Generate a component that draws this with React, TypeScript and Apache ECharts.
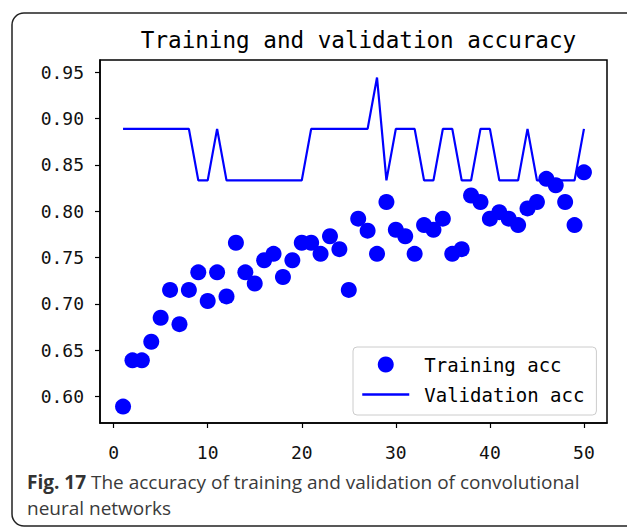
import React, { useEffect, useRef } from "react";
import * as echarts from "echarts";

const epochs = [
  1, 2, 3, 4, 5, 6, 7, 8, 9, 10, 11, 12, 13, 14, 15, 16, 17, 18, 19, 20, 21, 22, 23, 24, 25,
  26, 27, 28, 29, 30, 31, 32, 33, 34, 35, 36, 37, 38, 39, 40, 41, 42, 43, 44, 45, 46, 47, 48, 49, 50,
];

const trainingAcc = [
  0.589, 0.639, 0.639, 0.659, 0.685, 0.715, 0.678, 0.715, 0.734, 0.703,
  0.734, 0.708, 0.766, 0.734, 0.722, 0.747, 0.754, 0.729, 0.747, 0.766,
  0.766, 0.754, 0.773, 0.759, 0.715, 0.792, 0.779, 0.754, 0.810, 0.780,
  0.773, 0.754, 0.785, 0.780, 0.792, 0.754, 0.759, 0.817, 0.810, 0.792,
  0.799, 0.792, 0.785, 0.803, 0.810, 0.835, 0.828, 0.810, 0.785, 0.842,
];

const validationAcc = [
  0.8889, 0.8889, 0.8889, 0.8889, 0.8889, 0.8889, 0.8889, 0.8889, 0.8333, 0.8333,
  0.8889, 0.8333, 0.8333, 0.8333, 0.8333, 0.8333, 0.8333, 0.8333, 0.8333, 0.8333,
  0.8889, 0.8889, 0.8889, 0.8889, 0.8889, 0.8889, 0.8889, 0.9444, 0.8333, 0.8889,
  0.8889, 0.8889, 0.8333, 0.8333, 0.8889, 0.8889, 0.8333, 0.8333, 0.8889, 0.8889,
  0.8333, 0.8333, 0.8333, 0.8889, 0.8333, 0.8333, 0.8333, 0.8333, 0.8333, 0.8889,
];

const xTicks = [0, 10, 20, 30, 40, 50];
const yTicks = [0.6, 0.65, 0.7, 0.75, 0.8, 0.85, 0.9, 0.95];

const titleText = "Training and validation accuracy";
const seriesNames = ["Training acc", "Validation acc"];
const captionBold = "Fig. 17";
const captionRest = " The accuracy of training and validation of convolutional\nneural networks";

const MONO = "'DejaVu Sans Mono', monospace";

export default function App() {
  const ref = useRef<HTMLDivElement>(null);

  useEffect(() => {
    document.body.style.margin = "0";
    if (!ref.current) return;
    const chart = echarts.init(ref.current, undefined, { renderer: "svg" });
    const blue = "#0000ff";
    chart.setOption({
      animation: false,
      backgroundColor: "#ffffff",
      title: {
        text: titleText,
        left: 353.5,
        top: 23,
        textAlign: "center",
        textStyle: { fontFamily: MONO, fontSize: 22.6, fontWeight: "normal", color: "#000" },
      },
      grid: {
        left: 100,
        top: 60,
        right: 20,
        bottom: 105,
        show: true,
        borderColor: "#000",
        borderWidth: 1.5,
        backgroundColor: "#fff",
      },
      legend: {
        orient: "vertical",
        left: 353,
        top: 347,
        itemWidth: 47,
        itemHeight: 16,
        itemGap: 11,
        padding: [8, 12, 11, 8],
        backgroundColor: "#fff",
        borderColor: "#cccccc",
        borderWidth: 1,
        borderRadius: 4,
        lineStyle: { width: 2.5 },
        textStyle: { fontFamily: MONO, fontSize: 19, color: "#000", padding: [0, 0, 0, 10] },
        data: [
          { name: seriesNames[0], icon: "circle", itemStyle: { color: blue, opacity: 1 } },
          { name: seriesNames[1], itemStyle: { opacity: 0 }, lineStyle: { color: blue, width: 2.5, opacity: 1 } },
        ],
      },
      xAxis: {
        type: "value",
        min: -1.45,
        max: 52.45,
        splitLine: { show: false },
        axisLine: { show: true, onZero: false, lineStyle: { color: "#000", width: 1.5 } },
        axisTick: {
          show: true,
          inside: false,
          length: 5,
          customValues: xTicks,
          lineStyle: { color: "#000", width: 1.2 },
        },
        axisLabel: {
          customValues: xTicks,
          margin: 20,
          fontFamily: MONO,
          fontSize: 18,
          color: "#111",
        },
      },
      yAxis: {
        type: "value",
        min: 0.5713,
        max: 0.9633,
        splitLine: { show: false },
        axisLine: { show: true, onZero: false, lineStyle: { color: "#000", width: 1.5 } },
        axisTick: {
          show: true,
          inside: false,
          length: 5,
          customValues: yTicks,
          lineStyle: { color: "#000", width: 1.2 },
        },
        axisLabel: {
          customValues: yTicks,
          margin: 16,
          fontFamily: MONO,
          fontSize: 18,
          color: "#111",
          formatter: (v: number) => v.toFixed(2),
        },
      },
      series: [
        {
          name: seriesNames[0],
          type: "scatter",
          symbol: "circle",
          symbolSize: 16,
          itemStyle: { color: blue, opacity: 1 },
          data: epochs.map((e, i) => [e, trainingAcc[i]]),
          z: 3,
        },
        {
          name: seriesNames[1],
          type: "line",
          symbol: "none",
          showSymbol: false,
          lineStyle: { color: blue, width: 2.2 },
          itemStyle: { color: blue },
          data: epochs.map((e, i) => [e, validationAcc[i]]),
          z: 2,
        },
      ],
      graphic: [
        {
          type: "rect",
          z: -10,
          silent: true,
          shape: { x: 12, y: 13, width: 660, height: 513, r: 12 },
          style: { fill: "none", stroke: "#222", lineWidth: 1.5 },
        },
        {
          type: "text",
          silent: true,
          x: 27,
          y: 469,
          style: {
            text: "{b|" + captionBold + "}" + captionRest,
            fontFamily: "'Open Sans', sans-serif",
            fontSize: 19,
            lineHeight: 26,
            fill: "#3a3a3a",
            verticalAlign: "top",
            align: "left",
            rich: {
              b: { fontWeight: "bold", fontFamily: "'Open Sans', sans-serif", fontSize: 19, fill: "#333", lineHeight: 26 },
            },
          },
        },
      ],
    });
    return () => chart.dispose();
  }, []);

  return <div ref={ref} style={{ width: 627, height: 528 }} />;
}
